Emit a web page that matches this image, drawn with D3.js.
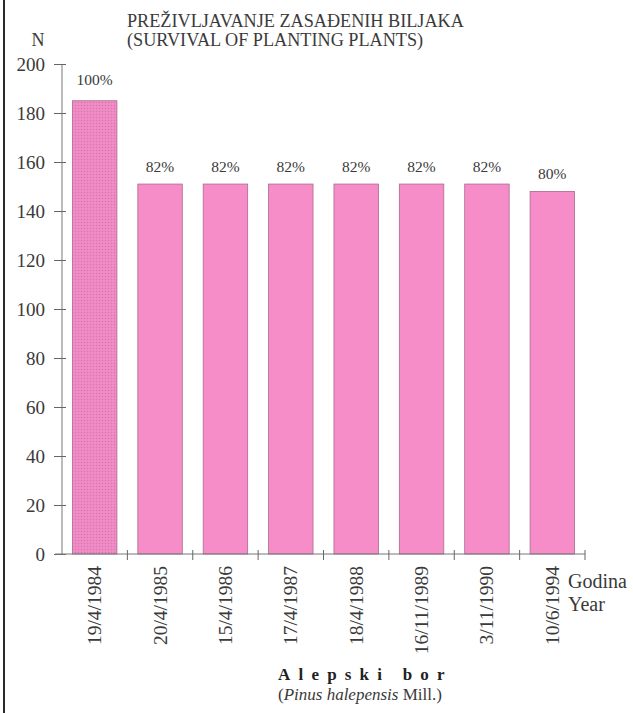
<!DOCTYPE html>
<html>
<head>
<meta charset="utf-8">
<script src="https://cdn.jsdelivr.net/npm/d3@7"></script>
<style>
  html, body { margin: 0; padding: 0; background: #fff; }
  svg { display: block; }
</style>
</head>
<body>
<svg id="chart" width="633" height="713"></svg>
<script>
const categories = ["19/4/1984", "20/4/1985", "15/4/1986", "17/4/1987", "18/4/1988", "16/11/1989", "3/11/1990", "10/6/1994"];
const values = [185, 151, 151, 151, 151, 151, 151, 148];
const percentLabels = ["100%", "82%", "82%", "82%", "82%", "82%", "82%", "80%"];
const yTicks = [0, 20, 40, 60, 80, 100, 120, 140, 160, 180, 200];
const titleLines = ["PREŽIVLJAVANJE ZASAĐENIH BILJAKA", "(SURVIVAL OF PLANTING PLANTS)"];

const FONT = '"Liberation Serif", "Times New Roman", serif';
const svg = d3.select("#chart");
const defs = svg.append("defs");
const pat = defs.append("pattern").attr("id", "hatch").attr("patternUnits", "userSpaceOnUse")
  .attr("width", 3).attr("height", 3);
pat.append("rect").attr("width", 3).attr("height", 3).attr("fill", "#ee88c3");
pat.append("rect").attr("x", 0).attr("y", 0).attr("width", 1).attr("height", 1).attr("fill", "#d874b0");
pat.append("rect").attr("x", 1.5).attr("y", 1.5).attr("width", 1).attr("height", 1).attr("fill", "#fa9bd1");

function txt(sel) { return sel.style("font-family", FONT).attr("fill", "#3a3a3a"); }

// frame line on left
svg.append("line").attr("x1", 4).attr("x2", 4).attr("y1", 0).attr("y2", 713)
  .attr("stroke", "#2a2a2a").attr("stroke-width", 2);

const x = d3.scaleBand().domain(categories).range([62, 585]).paddingInner(0.32).paddingOuter(0.16);
const y = d3.scaleLinear().domain([0, 200]).range([554, 64]);

// title
txt(svg.append("text").attr("x", 127).attr("y", 27).attr("font-size", 18.2).text(titleLines[0]));
txt(svg.append("text").attr("x", 127).attr("y", 46).attr("font-size", 18.2).text(titleLines[1]));
txt(svg.append("text").attr("x", 38).attr("y", 46).attr("font-size", 18).attr("text-anchor", "middle").text("N"));

// y axis
const yAxis = d3.axisLeft(y).tickValues(yTicks).tickSize(8).tickPadding(9);
const gy = svg.append("g").attr("transform", "translate(62,0)").call(yAxis);
gy.select(".domain").attr("stroke", "#777").attr("d", `M0,${y(0)}V${y(200)}`);
gy.selectAll(".tick line").attr("stroke", "#666").attr("x1", 4);
txt(gy.selectAll(".tick text").attr("font-size", 19));

// bars
svg.append("g").selectAll("rect").data(values).join("rect")
  .attr("x", (d, i) => x(categories[i]))
  .attr("y", d => y(d))
  .attr("width", x.bandwidth())
  .attr("height", d => y(0) - y(d))
  .attr("fill", (d, i) => i === 0 ? "url(#hatch)" : "#f68dc8")
  .attr("stroke", "#a86a8c")
  .attr("stroke-width", 0.8);

// percent labels
txt(svg.append("g").selectAll("text").data(values).join("text")
  .attr("x", (d, i) => x(categories[i]) + x.bandwidth() / 2)
  .attr("y", (d, i) => y(d) - (i === 0 ? 16 : 12))
  .attr("text-anchor", "middle")
  .attr("font-size", 15.5)
  .text((d, i) => percentLabels[i]));

// x axis
const xAxis = d3.axisBottom(x).tickSize(0).tickFormat("");
const gx = svg.append("g").attr("transform", `translate(0,${y(0)})`).call(xAxis);
gx.select(".domain").attr("stroke", "#777").attr("d", "M55,0H585");
const boundaries = categories.map(c => x(c) + x.bandwidth() + x.step() * x.paddingInner() / 2);
gx.selectAll(".bnd").data(boundaries).join("line").attr("class", "bnd")
  .attr("x1", d => d).attr("x2", d => d).attr("y1", -4).attr("y2", 6).attr("stroke", "#666");

// date labels
txt(svg.append("g").selectAll("text").data(categories).join("text")
  .attr("transform", d => `translate(${x(d) + x.bandwidth() / 2},566) rotate(-90)`)
  .attr("text-anchor", "end")
  .attr("dominant-baseline", "central")
  .attr("font-size", 19.5)
  .text(d => d));

txt(svg.append("text").attr("x", 568).attr("y", 588).attr("font-size", 20).text("Godina"));
txt(svg.append("text").attr("x", 568).attr("y", 611).attr("font-size", 20).text("Year"));

// species labels
txt(svg.append("text").attr("x", 278).attr("y", 680).attr("font-size", 17).attr("font-weight", "bold")
  .attr("letter-spacing", 8.2).text("Alepski bor")).attr("fill", "#222");
const t2 = txt(svg.append("text").attr("x", 278).attr("y", 700).attr("font-size", 17));
t2.append("tspan").text("(");
t2.append("tspan").attr("font-style", "italic").text("Pinus halepensis");
t2.append("tspan").text(" Mill.)");
</script>
</body>
</html>
